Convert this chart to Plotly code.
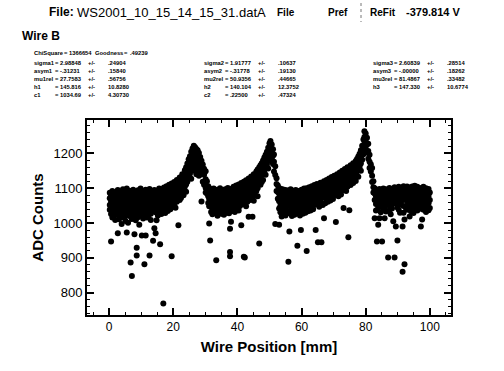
import plotly.graph_objects as go

# ---- data: (wire position [mm], ADC readings at that position) ----
region_left = [
    (0.2, [1087, 1071, 1052, 1038]), (0.6, [1079, 1061, 1044, 1026, 947]),
    (1.0, [1092, 1083, 1058, 1035, 1016]), (1.4, [1069, 1050, 1042, 1021]),
    (1.9, [1088, 1076, 1063, 1031, 1009]), (2.3, [1081, 1055, 1047, 1024]),
    (2.7, [1095, 1067, 1040, 1029, 971]), (3.1, [1073, 1060, 1036, 1011]),
    (3.5, [1089, 1078, 1052, 1043, 1019]), (3.9, [1066, 1049, 1032, 997]),
    (4.3, [1097, 1084, 1071, 1056, 1027]), (4.7, [1077, 1062, 1039, 1015]),
    (5.1, [1091, 1068, 1053, 1033, 1006]), (5.5, [1099, 1080, 1045, 1024, 973]),
    (5.9, [1074, 1059, 1037, 1001]), (6.3, [1093, 1086, 1065, 1048, 1020]),
    (6.7, [1070, 1054, 1031, 887]), (7.1, [1088, 1077, 1058, 1042, 1012, 848]),
    (7.5, [1096, 1064, 1036, 1018]), (7.9, [1083, 1071, 1050, 1026, 968]),
    (8.3, [1090, 1061, 1044, 1008]), (8.6, [1076, 929, 907]),
    (9.0, [1094, 1082, 1057, 1039, 1017]), (9.4, [1068, 1052, 1030, 995]),
    (9.8, [1099, 1087, 1073, 1046, 1022]), (10.2, [1079, 1060, 1041, 964]),
    (10.6, [1092, 1070, 1055, 1028, 1013]), (11.0, [1084, 1063, 1037, 882]),
    (11.4, [1096, 1074, 1049, 1025, 964]), (11.8, [1081, 1058, 1043, 1016]),
    (12.2, [1090, 1077, 1062, 1034, 1019]), (12.6, [1098, 1066, 1051, 907]),
    (13.0, [1085, 1073, 1040, 1027, 1009]), (13.4, [1092, 1069, 1054, 1033]),
    (13.7, [1080, 1047, 949]), (14.1, [1095, 1086, 1064, 1039, 985]),
    (14.5, [1075, 1057, 1031, 971]), (14.8, [1093, 1079, 1050, 1008]),
    (15.2, [1088, 1068, 1045, 1022]), (15.6, [1099, 1083, 1061, 1036]),
    (15.9, [1074, 1053, 939]), (16.3, [1097, 1087, 1065, 1043, 1026]),
    (16.7, [1079, 1059, 1034]), (16.9, [769]),
    (17.1, [1102, 1090, 1070, 1048]), (17.5, [1084, 1063, 1039, 1029]),
    (17.9, [1106, 1094, 1077, 1055]), (18.3, [1089, 1068, 1046, 1035]),
    (18.7, [1110, 1099, 1081, 1058]), (19.1, [1093, 1072, 1050, 1040]),
    (19.5, [1114, 1085, 1062, 905]), (19.9, [1105, 1096, 1076, 1047]),
]
peak1 = [
    (20.3, [1118, 1101, 1083, 1066, 1050]), (20.7, [1109, 1090, 1072, 1044]),
    (21.1, [1124, 1112, 1094, 1061]), (21.6, [1117, 1097, 1080, 994]),
    (22.0, [1131, 1120, 1103, 1085, 1066]), (22.4, [1126, 1108, 1090, 1072]),
    (22.8, [1140, 1127, 1113, 1094]), (23.2, [1135, 1118, 1099, 1080]),
    (23.6, [1152, 1139, 1121, 1104]), (24.0, [1160, 1146, 1130, 1111, 1090]),
    (24.4, [1171, 1155, 1137, 1119]), (24.8, [1183, 1169, 1150, 1131]),
    (25.2, [1192, 1178, 1160, 1142]), (25.6, [1205, 1190, 1173, 1155, 1127]),
    (26.0, [1214, 1200, 1184, 1163]), (26.4, [1222, 1208, 1193, 1171, 1150]),
    (26.8, [1218, 1203, 1186, 1166]), (27.2, [1213, 1198, 1180, 1158, 1140]),
    (27.6, [1209, 1194, 1175, 1152]), (28.0, [1201, 1184, 1166, 1136]),
    (28.4, [1190, 1174, 1155, 1143]), (28.8, [1179, 1162, 1140, 1062]),
    (29.2, [1168, 1150, 1119]), (29.6, [1156, 1139, 1110]),
    (30.1, [1149, 1126, 1101, 1088]), (30.5, [1120, 1104, 1085]),
    (30.9, [1106, 1093, 1077, 1058]),
]
valley1 = [
    (31.2, [1101, 1086, 1069, 1048, 999]), (31.5, [1092, 1060, 950]),
    (31.8, [1097, 1079, 1055, 1032]), (32.2, [1088, 1073, 1063, 1041, 1025]),
    (32.6, [1099, 1082, 1057, 1036]), (33.0, [1091, 1068, 1050, 1029]),
    (33.4, [1085, 1075, 1044, 893]), (33.8, [1096, 1081, 1062, 1038, 1021]),
    (34.2, [1089, 1066, 1052, 1033]), (34.6, [1100, 1087, 1071, 1045]),
    (35.0, [1083, 1061, 1040, 1027]), (35.4, [1094, 1078, 1058, 1036]),
    (35.8, [1088, 1070, 1049, 1024]), (36.2, [1097, 1084, 1063, 1043]),
    (36.6, [1090, 1067, 1053, 1030]), (37.0, [1101, 1079, 1060, 1037]),
    (37.4, [1086, 1071, 1046, 1028]), (37.7, [984, 917, 905]),
    (38.0, [1098, 1083, 1064, 1050, 1004]), (38.4, [1092, 1074, 1056, 1035]),
    (38.8, [1104, 1087, 1068, 1045]), (39.2, [1095, 1079, 1061, 1032]),
    (39.6, [1108, 1090, 1072, 1054]), (40.0, [1099, 1083, 1064, 1041]),
    (40.4, [1111, 1094, 1076, 1058, 1036]), (40.8, [1104, 1086, 1069, 1049]),
    (41.2, [1115, 1098, 1079, 994]), (41.6, [1107, 1091, 1073, 1055]),
    (42.0, [1119, 1102, 1084, 1062, 903]), (42.3, [1112, 1096, 1077, 901]),
    (42.7, [1123, 1106, 1088, 1067, 1048]), (43.1, [1117, 1100, 1082, 1061]),
    (43.5, [1128, 1111, 1093, 1072, 1018]), (43.9, [1122, 1105, 1087, 1066]),
    (44.3, [1134, 1118, 1099, 1078]), (44.7, [1129, 1112, 1094, 1018]),
    (45.1, [1140, 1124, 1106, 1085, 1064]), (45.5, [1135, 1119, 1101, 1079]),
    (45.9, [1148, 1131, 1113, 1092]), (46.3, [1154, 1137, 1120, 1100, 1077]),
    (46.8, [1160, 1144, 1126, 941]), (47.2, [1166, 1150, 1131, 1110]),
    (47.6, [1172, 1156, 1138, 1118]),
]
peak2 = [
    (48.0, [1180, 1163, 1144, 1124]), (48.4, [1188, 1170, 1151]),
    (48.8, [1196, 1178, 1160, 1139]), (49.2, [1205, 1188, 1168]),
    (49.6, [1216, 1199, 1180, 1157]), (50.0, [1229, 1212, 1192]),
    (50.3, [1236, 1220, 1201, 1178]), (50.7, [1226, 1208, 1186]),
    (51.1, [1212, 1193, 1170]), (51.4, [1197, 1176, 1148]),
    (51.8, [1163, 1138, 997]), (52.2, [1129, 1112, 1092]),
    (52.6, [1108, 1089, 1070]),
]
valley2 = [
    (53.0, [1101, 1084, 1063, 1042, 995]), (53.4, [1093, 1072, 1050, 1031]),
    (53.8, [1098, 1080, 1058, 1036, 1019]), (54.2, [1088, 1067, 1046, 1027]),
    (54.6, [1096, 1077, 1060, 1039]), (55.0, [1085, 1064, 1043, 1022]),
    (55.4, [1094, 1073, 1055, 1033]), (55.9, [1082, 1061, 889]),
    (56.2, [1090, 1070, 1049, 1028, 976]), (56.6, [1097, 1079, 1057, 1037]),
    (57.0, [1084, 1066, 1041, 1020]), (57.4, [1093, 1075, 1053, 1031]),
    (57.8, [1087, 1063, 1045, 1024]), (58.2, [1095, 1072, 1055, 1035]),
    (58.7, [1083, 1060, 1039, 935]), (59.1, [1092, 1074, 1051, 1030]),
    (59.5, [1086, 1065, 1046, 1022]), (59.8, [980]),
    (60.0, [1096, 1078, 1058, 1037]), (60.4, [1089, 1068, 1048, 1027]),
    (60.8, [1099, 1081, 1061, 1040]), (61.2, [1091, 1071, 1050, 1030]),
    (61.6, [1100, 1083, 1064, 920]), (62.0, [1094, 1075, 1054, 1034]),
    (62.4, [1103, 1086, 1066, 1045]), (62.8, [1096, 1078, 1057, 1036]),
    (63.2, [1106, 1089, 1070, 1049]), (63.6, [1099, 1081, 1061, 1040]),
    (64.0, [1109, 1091, 1072, 1052]), (64.4, [1102, 1084, 1064, 980]),
    (64.8, [1112, 1095, 1076, 1056]), (65.1, [1088, 945]),
    (65.5, [1106, 1087, 1068, 1047]), (65.9, [1116, 1099, 1080, 1060]),
    (66.2, [1072, 945]), (66.6, [1110, 1092, 1073, 1052]),
    (67.0, [1120, 1103, 1084, 1014]), (67.4, [1113, 1095, 1077, 1057]),
    (67.8, [1124, 1107, 1088, 1068]), (68.2, [1118, 1100, 1081, 1061]),
    (68.6, [1128, 1111, 1093, 1072]), (69.0, [1122, 1104, 1086, 1065]),
    (69.4, [1132, 1115, 1097, 1076]), (69.8, [1126, 1109, 1090, 1069]),
    (70.2, [1136, 1119, 1101, 1080]), (70.7, [1130, 1112, 1094, 1003]),
    (71.1, [1140, 1123, 1105, 1084]), (71.5, [1134, 1116, 1098, 1077]),
    (71.9, [1145, 1128, 1110, 1088]), (72.3, [1139, 1121, 1103, 1082]),
    (72.7, [1150, 1133, 1115, 1094]), (73.1, [1144, 1126, 1108, 1043]),
    (73.5, [1155, 1138, 1120, 1099]), (73.9, [1149, 1131, 1113, 1092]),
    (74.3, [1160, 1143, 1125, 1104]), (74.6, [1137, 959]),
    (74.9, [1154, 1118, 1037]), (75.3, [1166, 1149, 1130, 1109]),
    (75.7, [1160, 1142, 1124]), (76.1, [1172, 1155, 1136, 1115]),
    (76.5, [1166, 1148, 1129]),
]
peak3 = [
    (76.9, [1178, 1161, 1142, 1121]), (77.3, [1184, 1167, 1148]),
    (77.7, [1191, 1174, 1155, 1133]), (78.1, [1199, 1182, 1162]),
    (78.5, [1209, 1191, 1171, 1150]), (78.9, [1222, 1203, 1182]),
    (79.3, [1240, 1219, 1198]), (79.6, [1264, 1247, 1228, 1206]),
    (80.0, [1257, 1240, 1219]), (80.4, [1245, 1226, 1203]),
    (80.8, [1228, 1207, 1185]), (81.2, [1196, 1176, 1158]),
    (81.6, [1169, 1148]), (82.0, [1158, 1136, 1118]),
    (82.4, [1120, 1103, 1088]),
]
region_right = [
    (82.8, [1100, 1085, 1066, 1014]), (83.2, [1094, 1077, 1055, 1036]),
    (83.5, [1070, 947]), (83.9, [1089, 1062, 1044, 995]),
    (84.3, [1098, 1081, 1059, 1014]), (84.7, [1092, 1074, 1050, 1031]),
    (85.1, [1085, 1066, 947]), (85.5, [1099, 1080, 1060, 1040]),
    (85.9, [1090, 1071, 1047, 1014]), (86.3, [1097, 1083, 1063, 1033]),
    (86.7, [1087, 1068, 1052]), (87.0, [1093, 901]),
    (87.4, [1101, 1078, 1058, 1037]), (87.8, [1090, 1072, 1046, 1025]),
    (88.2, [1098, 1084, 1062, 1042]), (88.6, [1088, 1066, 1005]),
    (89.0, [1103, 1079, 1056, 901]), (89.4, [1094, 1070, 990]),
    (89.9, [1086, 1061, 1045, 950]), (90.3, [1104, 1088, 1067, 1038]),
    (90.7, [1095, 1076, 1054, 1030]), (91.1, [1101, 1082, 1063]),
    (91.5, [1091, 990, 860]), (91.8, [1106, 1073, 1049, 1030]),
    (92.1, [1085, 1010, 882]), (92.5, [1098, 1067, 1044]),
    (92.9, [1105, 1089, 1062, 1038]), (93.3, [1094, 1075, 1052]),
    (93.7, [1102, 1084, 1046, 1019]), (94.1, [1092, 1070, 1057, 1034]),
    (94.5, [1105, 1086, 1064]), (94.9, [1096, 1077, 1049, 1029]),
    (95.3, [1107, 1090, 1069, 1040]), (95.7, [1099, 1080, 1058]),
    (96.1, [1104, 1085, 1063, 1036]), (96.5, [1093, 1071, 1050]),
    (96.9, [1101, 1083, 1060, 1041]), (97.2, [1089, 990]),
    (97.6, [1097, 1076, 1054, 1010]), (98.0, [1104, 1086, 1065, 1038]),
    (98.4, [1095, 1072, 1049]), (98.8, [1100, 1081, 1060, 1032]),
    (99.2, [1092, 1069, 1046]), (99.6, [1098, 1078, 1057, 1037]),
    (100.0, [1088, 1066, 1043]),
]

x_ticks = [0, 20, 40, 60, 80, 100]
y_ticks = [800, 900, 1000, 1100, 1200]

header_file = "WS2001_10_15_14_15_31.datA"
header_voltage = "-379.814 V"
wire_name = "Wire B"
chi_square = "1366654"
goodness = ".49239"
fit_params = [
    [("sigma1", "2.98848", ".24904"), ("asym1", "-.31231", ".15840"), ("mu1rel", "27.7583", ".56756"),
     ("h1", "145.816", "10.8280"), ("c1", "1034.69", "4.30730")],
    [("sigma2", "1.91777", ".10637"), ("asym2", "-.31778", ".19130"), ("mu2rel", "50.9356", ".44665"),
     ("h2", "140.104", "12.3752"), ("c2", ".22500", ".47324")],
    [("sigma3", "2.60839", ".28514"), ("asym3", "-.00000", ".18262"), ("mu3rel", "81.4867", ".33482"),
     ("h3", "147.330", "10.6774")],
]

# ---- build points ----
xs, ys = [], []
for seg in (region_left, peak1, valley1, peak2, valley2, peak3, region_right):
    for pos, vals in seg:
        for v in vals:
            xs.append(pos)
            ys.append(v)

W, H = 504, 371
L, R, T, B = 87, 451, 120, 315


def px(p):
    return (p - L) / (R - L)


def py(p):
    return (B - p) / (B - T)


FONT = "Liberation Sans, Arial, Helvetica, sans-serif"

fig = go.Figure()
fig.add_trace(go.Scatter(
    x=xs, y=ys, mode="markers",
    marker=dict(color="black", size=6, line=dict(width=0)),
    showlegend=False, hoverinfo="skip",
))

annotations = []


def text(x, y, s, size, bold=False, anchor="left"):
    annotations.append(dict(
        x=px(x), y=py(y), xref="paper", yref="paper", text=("<b>%s</b>" % s) if bold else s,
        showarrow=False, xanchor=anchor, yanchor="middle",
        borderpad=0, font=dict(family=FONT, size=size, color="black"),
    ))


text(48, 12, "File:", 12, True)
text(76, 12, header_file, 13)
text(276, 12, "File", 10, True)
text(327, 12, "Pref", 10, True)
text(369, 12, "ReFit", 10, True)
text(405, 12, header_voltage, 11, True)
text(21, 36, wire_name, 12, True)

SMALL = 5.8
text(33, 53, "ChiSquare", SMALL, True)
text(63, 53, "=", SMALL, True)
text(68, 53, chi_square, SMALL, True)
text(94, 53, "Goodness", SMALL, True)
text(123, 53, "=", SMALL, True)
text(129, 53, goodness, SMALL, True)

col_x = [33, 203, 372]
row_y = [63, 71, 79, 87, 95]
for ci, col in enumerate(fit_params):
    cx = col_x[ci]
    for ri, (lab, val, err) in enumerate(col):
        yy = row_y[ri]
        text(cx, yy, lab, SMALL, True)
        text(cx + 21, yy, "=", SMALL, True)
        text(cx + 26, yy, val, SMALL, True)
        text(cx + 54, yy, "+/-", SMALL, True)
        text(cx + 74, yy, err, SMALL, True)

shapes = [dict(type="line", xref="paper", yref="paper", x0=px(361), x1=px(361), y0=py(3), y1=py(22),
               line=dict(color="#777", width=1, dash="dot"))]

fig.update_layout(
    width=W, height=H,
    margin=dict(l=L, r=W - R, t=T, b=H - B, pad=0),
    paper_bgcolor="white", plot_bgcolor="white",
    annotations=annotations, shapes=shapes,
    font=dict(family=FONT, color="black"),
)

fig.update_xaxes(
    range=[-6.9, 106.6], tickvals=x_ticks, ticktext=[str(v) for v in x_ticks],
    ticks="inside", ticklen=7, tickwidth=1.5, tickcolor="black",
    minor=dict(ticks="inside", dtick=5, tick0=0, ticklen=3, tickwidth=1, tickcolor="black"),
    showline=True, linecolor="black", linewidth=2, mirror="allticks",
    showgrid=False, zeroline=False,
    tickfont=dict(family=FONT, size=12, color="black"),
    title=dict(text="<b>Wire Position [mm]</b>", font=dict(family=FONT, size=15, color="black"), standoff=8),
)
fig.update_yaxes(
    range=[736, 1296], tickvals=y_ticks, ticktext=[str(v) for v in y_ticks],
    ticks="inside", ticklen=7, tickwidth=1.5, tickcolor="black",
    minor=dict(ticks="inside", dtick=20, tick0=0, ticklen=3, tickwidth=1, tickcolor="black"),
    showline=True, linecolor="black", linewidth=2, mirror="allticks",
    showgrid=False, zeroline=False,
    tickfont=dict(family=FONT, size=13, color="black"),
    title=dict(text="<b>ADC Counts</b>", font=dict(family=FONT, size=15, color="black"), standoff=6),
)

fig.write_html("out.html")
